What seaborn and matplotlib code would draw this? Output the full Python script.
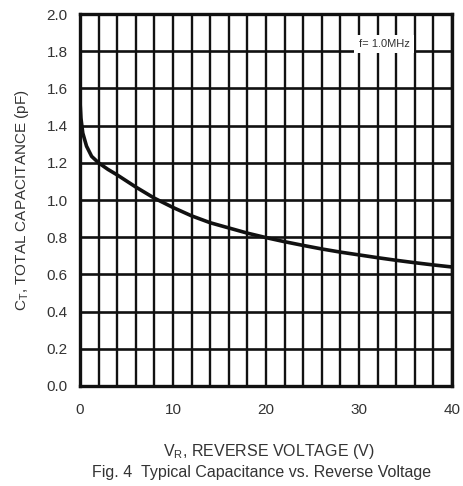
import pandas as pd
import seaborn as sns
import matplotlib.pyplot as plt

# reverse voltage (V) and total capacitance (pF)
voltage = [0, 0.1, 0.3, 0.7, 1.25, 2, 3, 4, 6, 8, 10, 12, 14, 16, 18, 20,
           22, 24, 26, 28, 30, 32, 34, 36, 38, 40]
capacitance = [1.53, 1.44, 1.36, 1.29, 1.235, 1.20, 1.165, 1.135, 1.07, 1.01,
               0.96, 0.915, 0.878, 0.85, 0.822, 0.798, 0.776, 0.756, 0.737,
               0.72, 0.705, 0.69, 0.676, 0.663, 0.651, 0.64]
x_ticks = [0, 10, 20, 30, 40]
y_ticks = [0.0, 0.2, 0.4, 0.6, 0.8, 1.0, 1.2, 1.4, 1.6, 1.8, 2.0]
note = 'f= 1.0MHz'

data = pd.DataFrame({'V': voltage, 'C': capacitance})

sns.set_style('white')
plt.rcParams['font.family'] = ['Liberation Sans', 'DejaVu Sans']
plt.rcParams['mathtext.default'] = 'regular'

fig = plt.figure(figsize=(4.63, 4.86), dpi=100)
ax = fig.add_axes([0.1728, 0.2058, 0.8032, 0.7652])

# grid: every 2 V and every 0.2 pF
for v in range(0, 41, 2):
    ax.axvline(v, color='#111111', lw=1.7, zorder=1)
for c in y_ticks:
    ax.axhline(c, color='#111111', lw=1.9, zorder=1)

sns.lineplot(data=data, x='V', y='C', color='#111111', lw=2.6, ax=ax, zorder=3)

ax.set_xlim(0, 40)
ax.set_ylim(0, 2.0)
ax.set_xticks(x_ticks)
ax.set_yticks(y_ticks)
ax.set_yticklabels([f'{t:.1f}' for t in y_ticks])
ax.tick_params(length=0, labelsize=11, colors='#333333', pad=9)
ax.tick_params(axis='x', pad=12)
for s in ax.spines.values():
    s.set_linewidth(2.4)
    s.set_color('#111111')

ax.set_xlabel('')
ax.set_ylabel('C$_T$, TOTAL CAPACITANCE (pF)', fontsize=11, color='#333333', labelpad=11)

ax.text(32.7, 1.84, note, fontsize=8, color='#333333', ha='center', va='center', zorder=4,
        bbox=dict(facecolor='white', edgecolor='none', pad=3))

fig.text(0.58, 0.071, 'V$_R$, REVERSE VOLTAGE (V)', fontsize=11.5, color='#333333',
         ha='center', va='center')
fig.text(0.565, 0.028, 'Fig. 4  Typical Capacitance vs. Reverse Voltage', fontsize=11.5,
         color='#333333', ha='center', va='center')

plt.savefig('out.png', dpi=100)
